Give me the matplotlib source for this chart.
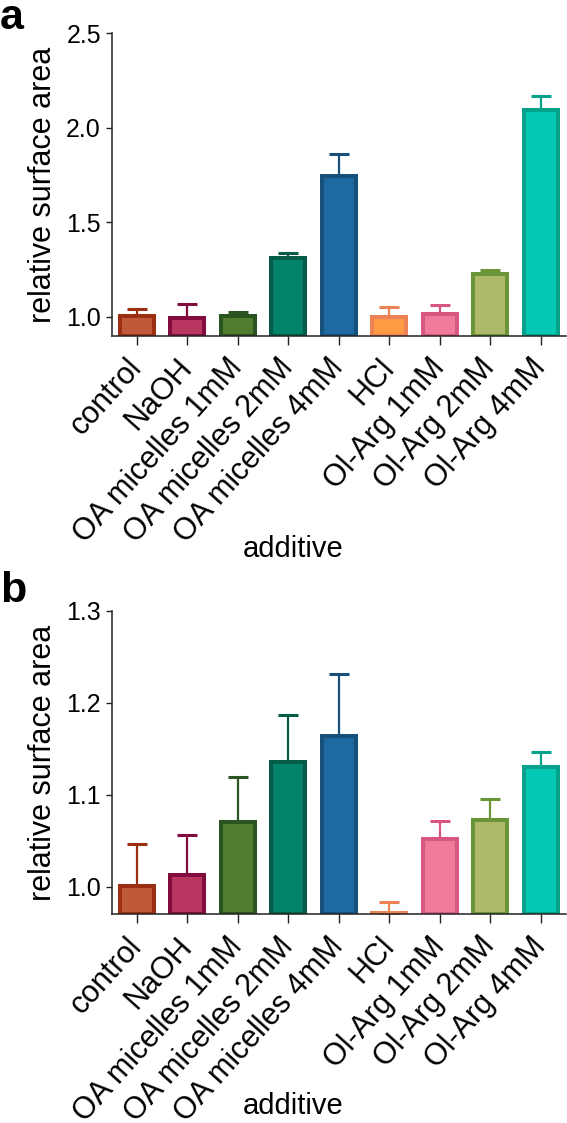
import matplotlib
matplotlib.use('Agg')
import matplotlib.pyplot as plt
import matplotlib.transforms as mtransforms
import numpy as np

plt.rcParams['font.family'] = ['Liberation Sans', 'DejaVu Sans']

# data
labels = ['control', 'NaOH', 'OA micelles 1mM', 'OA micelles 2mM', 'OA micelles 4mM',
          'HCl', 'Ol-Arg 1mM', 'Ol-Arg 2mM', 'Ol-Arg 4mM']

a_mean = [1.006, 0.993, 1.006, 1.311, 1.743, 1.000, 1.014, 1.226, 2.095]
a_err = [0.033, 0.074, 0.017, 0.025, 0.117, 0.053, 0.046, 0.021, 0.072]

b_mean = [1.001, 1.013, 1.070, 1.136, 1.164, 0.971, 1.052, 1.073, 1.130]
b_err = [0.0455, 0.043, 0.049, 0.0505, 0.067, 0.012, 0.019, 0.0225, 0.0165]

fills = ['#BE593A', '#B83660', '#527D2F', '#03836A', '#1F69A2',
         '#FF9A45', '#F17B9B', '#AFB96A', '#04C7B4']
edges = ['#9C2E12', '#820C3E', '#2A5520', '#045C47', '#17507A',
         '#EC8256', '#D8577E', '#6A9537', '#05A18A']

a_ticks = [1.0, 1.5, 2.0, 2.5]
b_ticks = [1.0, 1.1, 1.2, 1.3]

fig = plt.figure(figsize=(5.67, 11.23), dpi=100)
W, H = 567.0, 1123.0


def panel(rect, means, errs, ylim, yticks, letter, letter_y, xlab_y):
    ax = fig.add_axes(rect)
    x = np.arange(len(means))
    for i in range(len(means)):
        ax.errorbar(x[i], means[i], yerr=[[0], [errs[i]]], fmt='none',
                    ecolor=edges[i], elinewidth=1.6, capsize=7, capthick=2.2, zorder=1)
    ax.bar(x, np.array(means) - ylim[0], bottom=ylim[0], width=0.67,
           color=fills, edgecolor=edges, linewidth=2.9, zorder=2)
    ax.set_xlim(-0.49, 8.5)
    ax.set_ylim(*ylim)
    ax.set_yticks(yticks)
    ax.set_yticklabels(['%.1f' % t for t in yticks])
    ax.set_xticks(x)
    ax.set_xticklabels(labels, rotation=48, ha='right', va='center',
                       rotation_mode='anchor')
    # nudge the slanted labels to the right
    shift = mtransforms.ScaledTranslation(13 / 72., 0, fig.dpi_scale_trans)
    for lab in ax.get_xticklabels():
        lab.set_transform(lab.get_transform() + shift)
    for s in ['top', 'right']:
        ax.spines[s].set_visible(False)
    for s in ['left', 'bottom']:
        ax.spines[s].set_linewidth(1.1)
        ax.spines[s].set_color('#222222')
    ax.tick_params(axis='y', length=4, width=1, pad=4, labelsize=18, colors='#222222')
    ax.tick_params(axis='x', length=6.5, width=1, pad=13, labelsize=22, colors='#222222')
    ax.tick_params(axis='both', labelcolor='black')
    ax.set_ylabel('relative surface area', fontsize=22)
    ax.set_xlabel('additive', fontsize=21)
    ax.xaxis.set_label_coords(0.40, xlab_y)
    ax.yaxis.set_label_coords(-0.119, 0.5)
    fig.text(0.0, 1 - letter_y / H, letter, fontsize=31, fontweight='bold',
             ha='left', va='baseline')
    return ax


panel([112 / W, 1 - 335.6 / H, 454 / W, 302.3 / H], a_mean, a_err,
      (0.9, 2.5), a_ticks, 'a', 29, -0.66)
panel([112 / W, 1 - 914.3 / H, 454 / W, 303.3 / H], b_mean, b_err,
      (0.97, 1.3), b_ticks, 'b', 602, -0.586)

fig.savefig('out.png', dpi=100)
